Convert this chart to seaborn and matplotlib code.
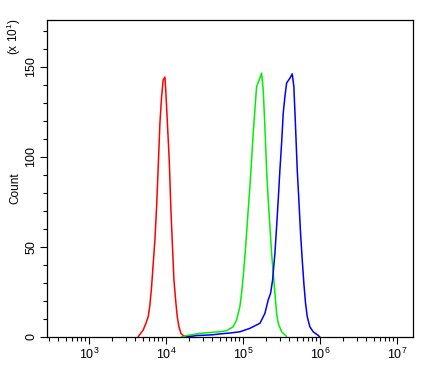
import numpy as np
import pandas as pd
import matplotlib
matplotlib.use("Agg")
import matplotlib.pyplot as plt
import seaborn as sns
from matplotlib.ticker import LogLocator, MultipleLocator, NullFormatter

# peaks (x: log10 of intensity, y: count in units of 10)
red_logx = [3.640, 3.705, 3.740, 3.770, 3.792, 3.814, 3.835, 3.857, 3.879, 3.900,
            3.922, 3.944, 3.965, 3.987, 4.000, 4.017, 4.043, 4.065, 4.087, 4.104,
            4.126, 4.147, 4.169, 4.195, 4.225, 4.269]
red_count = [0.2, 3.9, 7.6, 11.3, 17.8, 28.0, 40.9, 53.9, 72.4, 94.6,
             118.7, 133.5, 142.8, 144.3, 135.4, 120.6, 98.3, 70.6, 48.3, 31.7,
             20.6, 11.3, 5.7, 2.0, 0.8, 0.0]

green_logx = [4.20, 4.30, 4.44, 4.60, 4.70, 4.788, 4.874, 4.918, 4.961, 4.983,
              5.004, 5.026, 5.048, 5.069, 5.091, 5.113, 5.134, 5.156, 5.178, 5.221,
              5.243, 5.264, 5.286, 5.308, 5.329, 5.351, 5.373, 5.394, 5.416, 5.438,
              5.459, 5.503, 5.568]
green_count = [0.0, 1.0, 2.0, 2.6, 2.9, 3.5, 5.7, 9.4, 16.9, 24.3,
               33.5, 44.6, 57.6, 70.6, 83.5, 98.3, 113.1, 126.1, 139.1, 143.7,
               146.5, 137.2, 116.8, 92.8, 76.1, 61.3, 46.5, 35.4, 24.3, 13.1,
               7.6, 2.9, 0.3]

blue_logx = [4.27, 4.40, 4.60, 4.70, 4.85, 4.961, 5.091, 5.178, 5.221, 5.286,
             5.329, 5.360, 5.386, 5.416, 5.438, 5.459, 5.481, 5.503, 5.524, 5.546,
             5.568, 5.611, 5.641, 5.662, 5.684, 5.706, 5.727, 5.749, 5.771, 5.792,
             5.814, 5.836, 5.870, 5.913, 5.978, 6.000]
blue_count = [0.0, 0.8, 1.2, 1.7, 2.3, 2.9, 4.8, 6.7, 7.6, 13.1,
              20.6, 24.3, 31.7, 46.5, 61.3, 76.1, 92.8, 107.6, 124.3, 133.5,
              141.0, 143.7, 146.1, 139.1, 116.8, 92.8, 76.1, 57.6, 42.8, 29.8,
              18.7, 11.3, 5.7, 2.9, 0.9, 0.0]

samples = ["red", "green", "blue"]
colors = {"red": "#ff0000", "green": "#00f000", "blue": "#0000ff"}

frames = []
for name, lx, cnt in [("red", red_logx, red_count),
                      ("green", green_logx, green_count),
                      ("blue", blue_logx, blue_count)]:
    frames.append(pd.DataFrame({"intensity": 10 ** np.array(lx),
                                "count": cnt, "sample": name}))
df = pd.concat(frames, ignore_index=True)

sns.set_style("ticks")
plt.rcParams["font.family"] = ["Liberation Sans", "DejaVu Sans"]
plt.rcParams["mathtext.fontset"] = "custom"
plt.rcParams["mathtext.rm"] = "Liberation Sans"
plt.rcParams["text.color"] = "black"
plt.rcParams["axes.labelcolor"] = "black"
plt.rcParams["xtick.color"] = "black"
plt.rcParams["ytick.color"] = "black"

fig = plt.figure(figsize=(4.36, 3.68), dpi=100)
ax = fig.add_axes([47 / 436, 31 / 368, 366 / 436, 317 / 368])

sns.lineplot(data=df, x="intensity", y="count", hue="sample", hue_order=samples,
             palette=colors, estimator=None, sort=False, linewidth=1.1,
             legend=False, ax=ax)

ax.set_xscale("log")
ax.set_xlim(10 ** 2.455, 10 ** 7.21)
ax.set_ylim(0, 176)

ax.xaxis.set_minor_locator(LogLocator(base=10, subs=np.arange(2, 10), numticks=20))
ax.xaxis.set_minor_formatter(NullFormatter())
ax.set_xticks([1e3, 1e4, 1e5, 1e6, 1e7])
ax.set_xticklabels([r"$10^{3}$", r"$10^{4}$", r"$10^{5}$", r"$10^{6}$", r"$10^{7}$"])

ax.yaxis.set_major_locator(MultipleLocator(50))
ax.yaxis.set_minor_locator(MultipleLocator(10))

ax.tick_params(which="major", length=5, width=0.8, colors="black",
               labelsize=9, pad=2, direction="out")
ax.tick_params(which="minor", length=3, width=0.8, color="black", direction="out")
plt.setp(ax.get_yticklabels(), rotation=90, va="center")

for s in ax.spines.values():
    s.set_visible(True)
    s.set_linewidth(0.9)
    s.set_color("black")

ax.set_xlabel("")
ax.set_ylabel("Count", fontsize=8.5)
ax.yaxis.set_label_coords(-0.07, 0.47)

fig.text(23 / 436, 1 - 37 / 368, r"(x 10$^{1}$)", rotation=90,
         ha="right", va="center", fontsize=8.5)

fig.savefig("out.png", dpi=100)
